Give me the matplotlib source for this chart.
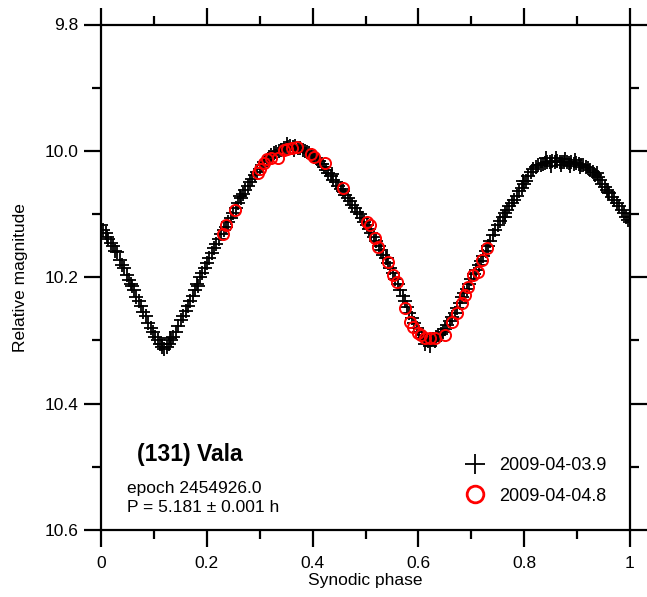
import matplotlib
matplotlib.use("Agg")
import matplotlib.pyplot as plt
from matplotlib.lines import Line2D
from matplotlib.ticker import MultipleLocator, FixedLocator

plt.rcParams['font.family'] = ['Liberation Sans', 'DejaVu Sans']

# ---- data ----
black_phase = [0.000, 0.004, 0.009, 0.013, 0.018, 0.022, 0.026, 0.030, 0.035, 0.040,
               0.044, 0.049, 0.053, 0.058, 0.062, 0.067, 0.071, 0.076, 0.080, 0.085,
               0.089, 0.094, 0.098, 0.103, 0.107, 0.111, 0.116, 0.120, 0.124, 0.128,
               0.133, 0.137, 0.142, 0.146, 0.151, 0.155, 0.160, 0.164, 0.169, 0.173,
               0.178, 0.182, 0.187, 0.191, 0.196, 0.200, 0.205, 0.209, 0.214, 0.218,
               0.223, 0.227, 0.232, 0.236, 0.241, 0.245, 0.250, 0.255, 0.259, 0.264,
               0.268, 0.273, 0.277, 0.282, 0.286, 0.291, 0.295, 0.300, 0.304, 0.309,
               0.313, 0.318, 0.322, 0.327, 0.331, 0.336, 0.340, 0.345, 0.349, 0.354,
               0.358, 0.363, 0.367, 0.372, 0.376, 0.381, 0.385, 0.390, 0.394, 0.399,
               0.403, 0.408, 0.412, 0.417, 0.421, 0.426, 0.430, 0.435, 0.439, 0.444,
               0.448, 0.453, 0.457, 0.462, 0.466, 0.471, 0.475, 0.480, 0.484, 0.489,
               0.493, 0.498, 0.502, 0.507, 0.511, 0.516, 0.520, 0.525, 0.529, 0.534,
               0.538, 0.543, 0.547, 0.552, 0.556, 0.561, 0.565, 0.570, 0.574, 0.579,
               0.583, 0.588, 0.592, 0.597, 0.601, 0.606, 0.610, 0.615, 0.619, 0.624,
               0.628, 0.633, 0.637, 0.642, 0.646, 0.651, 0.655, 0.660, 0.664, 0.669,
               0.673, 0.678, 0.682, 0.687, 0.691, 0.696, 0.700, 0.705, 0.709, 0.714,
               0.718, 0.723, 0.727, 0.732, 0.736, 0.741, 0.745, 0.750, 0.754, 0.759,
               0.763, 0.768, 0.772, 0.777, 0.781, 0.786, 0.790, 0.795, 0.799, 0.804,
               0.808, 0.813, 0.817, 0.822, 0.826, 0.831, 0.835, 0.840, 0.844, 0.849,
               0.853, 0.858, 0.862, 0.867, 0.871, 0.876, 0.880, 0.885, 0.889, 0.894,
               0.898, 0.903, 0.907, 0.912, 0.916, 0.921, 0.925, 0.930, 0.934, 0.939,
               0.943, 0.948, 0.952, 0.957, 0.961, 0.966, 0.970, 0.975, 0.979, 0.984,
               0.988, 0.993, 0.997, 1.000,
               0.011, 0.056, 0.115, 0.131, 0.184, 0.262, 0.351, 0.365, 0.437, 0.541,
               0.612, 0.621, 0.631, 0.764, 0.798, 0.842, 0.851, 0.860, 0.869, 0.878,
               0.887, 0.896, 0.905, 0.938, 0.958]
black_mag = [10.118, 10.126, 10.130, 10.140, 10.146, 10.150, 10.158, 10.160, 10.172, 10.180,
             10.186, 10.197, 10.204, 10.214, 10.220, 10.232, 10.238, 10.246, 10.255, 10.262,
             10.272, 10.280, 10.286, 10.294, 10.300, 10.305, 10.311, 10.313, 10.310, 10.306,
             10.300, 10.294, 10.286, 10.277, 10.268, 10.262, 10.253, 10.246, 10.238, 10.229,
             10.220, 10.210, 10.200, 10.193, 10.185, 10.177, 10.170, 10.162, 10.154, 10.148,
             10.140, 10.132, 10.126, 10.120, 10.112, 10.106, 10.098, 10.090, 10.082, 10.075,
             10.068, 10.062, 10.056, 10.050, 10.044, 10.038, 10.033, 10.028, 10.022, 10.018,
             10.014, 10.010, 10.007, 10.004, 10.002, 10.000, 9.998, 9.996, 9.995, 9.994,
             9.993, 9.994, 9.993, 9.995, 9.996, 9.998, 10.000, 10.002, 10.004, 10.006,
             10.010, 10.013, 10.016, 10.020, 10.025, 10.030, 10.035, 10.040, 10.046, 10.050,
             10.055, 10.060, 10.064, 10.070, 10.074, 10.080, 10.085, 10.090, 10.096, 10.100,
             10.106, 10.112, 10.118, 10.124, 10.130, 10.136, 10.142, 10.150, 10.157, 10.164,
             10.170, 10.178, 10.186, 10.194, 10.202, 10.211, 10.220, 10.230, 10.238, 10.247,
             10.256, 10.265, 10.272, 10.280, 10.287, 10.292, 10.296, 10.300, 10.301, 10.300,
             10.298, 10.295, 10.292, 10.290, 10.286, 10.282, 10.276, 10.270, 10.263, 10.256,
             10.248, 10.240, 10.232, 10.225, 10.218, 10.210, 10.202, 10.195, 10.188, 10.181,
             10.174, 10.166, 10.158, 10.150, 10.142, 10.133, 10.125, 10.118, 10.111, 10.105,
             10.099, 10.093, 10.088, 10.083, 10.078, 10.071, 10.064, 10.058, 10.052, 10.047,
             10.040, 10.033, 10.028, 10.025, 10.023, 10.022, 10.021, 10.019, 10.018, 10.017,
             10.016, 10.017, 10.016, 10.018, 10.017, 10.018, 10.018, 10.019, 10.018, 10.020,
             10.019, 10.021, 10.022, 10.023, 10.025, 10.027, 10.030, 10.034, 10.038, 10.042,
             10.046, 10.052, 10.057, 10.062, 10.067, 10.073, 10.078, 10.083, 10.088, 10.094,
             10.099, 10.104, 10.110, 10.113,
             10.137, 10.210, 10.305, 10.296, 10.214, 10.072, 9.989, 9.999, 10.036, 10.170,
             10.306, 10.309, 10.301, 10.104, 10.047, 10.012, 10.024, 10.011, 10.023, 10.013,
             10.024, 10.014, 10.026, 10.035, 10.065]

red_phase = [0.231, 0.236, 0.253, 0.297, 0.300, 0.308, 0.314, 0.322, 0.335, 0.345,
             0.352, 0.362, 0.370, 0.397, 0.403, 0.423, 0.457, 0.503, 0.509, 0.518,
             0.524, 0.543, 0.552, 0.560, 0.575, 0.584, 0.590, 0.599, 0.605, 0.612,
             0.622, 0.631, 0.650, 0.664, 0.673, 0.682, 0.688, 0.694, 0.703, 0.713,
             0.720, 0.730]
red_mag = [10.131, 10.118, 10.093, 10.035, 10.029, 10.019, 10.013, 10.011, 10.012, 9.999,
           9.997, 9.995, 9.994, 10.005, 10.009, 10.019, 10.059, 10.112, 10.117, 10.138,
           10.152, 10.176, 10.196, 10.207, 10.248, 10.271, 10.278, 10.288, 10.292, 10.296,
           10.296, 10.296, 10.291, 10.271, 10.256, 10.240, 10.228, 10.215, 10.196, 10.191,
           10.173, 10.154]

x_ticks = [0, 0.2, 0.4, 0.6, 0.8, 1]
x_ticklabels = ['0', '0.2', '0.4', '0.6', '0.8', '1']
y_ticks = [9.8, 10.0, 10.2, 10.4, 10.6]
y_ticklabels = ['9.8', '10.0', '10.2', '10.4', '10.6']
series_labels = ['2009-04-03.9', '2009-04-04.8']

# ---- figure ----
W, H = 647, 597
fig = plt.figure(figsize=(W / 100, H / 100), dpi=100)
ax = fig.add_axes([101 / W, 1 - 530 / H, (630 - 101) / W, (530 - 24.5) / H])

ax.plot(black_phase, black_mag, linestyle='none', marker='+', color='black',
        markersize=10, markeredgewidth=1.3, zorder=3)
ax.plot(red_phase, red_mag, linestyle='none', marker='o', markerfacecolor='none',
        markeredgecolor='#ff0000', markersize=8, markeredgewidth=1.4, zorder=4)

ax.set_xlim(0, 1)
ax.set_ylim(10.6, 9.8)

ax.xaxis.set_major_locator(FixedLocator(x_ticks))
ax.set_xticklabels(x_ticklabels)
ax.yaxis.set_major_locator(FixedLocator(y_ticks))
ax.set_yticklabels(y_ticklabels)
ax.xaxis.set_minor_locator(MultipleLocator(0.1))
ax.yaxis.set_minor_locator(MultipleLocator(0.1))

for s in ax.spines.values():
    s.set_linewidth(1.6)

ax.tick_params(which='both', direction='out', top=True, right=True, width=1.6,
               labelsize=12.5, colors='black')
ax.tick_params(which='major', length=12.5, pad=4)
ax.tick_params(axis='x', which='major', pad=6)
ax.tick_params(which='minor', length=6.5)

ax.set_xlabel('Synodic phase', fontsize=12.5, labelpad=2)
ax.set_ylabel('Relative magnitude', fontsize=12.5, labelpad=12)

ax.text(137, 455, '(131) Vala', transform=None, fontsize=16.5, fontweight='bold',
        ha='left', va='center')
ax.text(127, 488, 'epoch 2454926.0', transform=None, fontsize=12.5, ha='left', va='center')
ax.text(127, 507, 'P = 5.181 ± 0.001 h', transform=None, fontsize=12.5, ha='left', va='center')

# text positions above were given in pixels from the top-left corner
for t in ax.texts:
    x, y = t.get_position()
    t.set_position((x / W, 1 - y / H))
    t.set_transform(fig.transFigure)

handles = [Line2D([], [], linestyle='none', marker='+', color='black', markersize=14,
                  markeredgewidth=1.3),
           Line2D([], [], linestyle='none', marker='o', markerfacecolor='none',
                  markeredgecolor='#ff0000', markersize=12, markeredgewidth=2.0)]
leg = ax.legend(handles, series_labels, loc='center left', frameon=False,
                bbox_to_anchor=((464 - 101) / 529, (530 - 481) / 505.5),
                fontsize=13, handlelength=1.2, handletextpad=0.75, labelspacing=0.75,
                borderpad=0, borderaxespad=0)

fig.savefig('out.png', dpi=100)
